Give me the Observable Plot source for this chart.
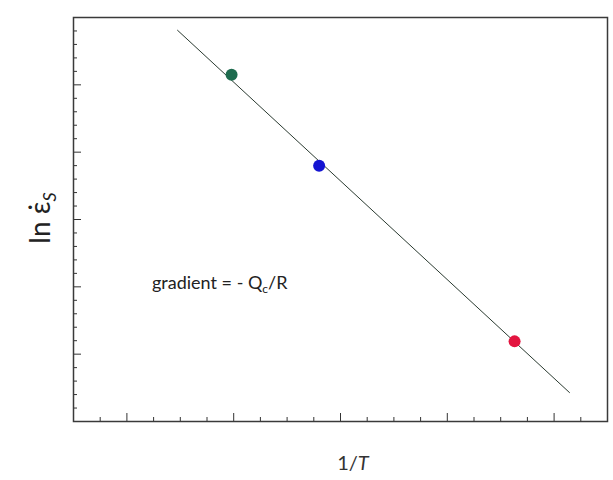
<!DOCTYPE html>
<html><head><meta charset="utf-8">
<script src="https://cdn.jsdelivr.net/npm/d3@7"></script>
<script src="https://cdn.jsdelivr.net/npm/@observablehq/plot@0.6"></script>
<style>body{margin:0;background:#fff}</style>
</head><body><div id="chart"></div>
<script>
// Data (arbitrary units)
const pointX = [1.48, 2.30, 4.13];
const pointY = [5.15, 3.80, 1.19];
const pointColor = ["#1d6b4e", "#1414d2", "#e3143f"];
const fitX = [0.974, 4.644];
const fitY = [5.81, 0.43];
const xMajor = [0.5, 1.5, 2.5, 3.5, 4.5];
const xMinor = [0.25, 0.75, 1, 1.25, 1.75, 2, 2.25, 2.75, 3, 3.25, 3.75, 4, 4.25, 4.75];
const yMajor = [1, 2, 3, 4, 5];
const yMinor = [0.2,0.4,0.6,0.8,1.2,1.4,1.6,1.8,2.2,2.4,2.6,2.8,3.2,3.4,3.6,3.8,4.2,4.4,4.6,4.8,5.2,5.4,5.6,5.8];

const points = pointX.map((x, i) => ({x, y: pointY[i], c: pointColor[i]}));
const fit = fitX.map((x, i) => ({x, y: fitY[i]}));

const chart = Plot.plot({
  width: 613, height: 480,
  marginLeft: 73, marginRight: 6, marginTop: 17, marginBottom: 59,
  x: {domain: [0, 5]},
  y: {domain: [0, 6]},
  marks: [
    Plot.axisX(xMajor, {anchor: "bottom", tickSize: -8, tickFormat: () => "", label: null, stroke: "#333"}),
    Plot.axisX(xMinor, {anchor: "bottom", tickSize: -4, tickFormat: () => "", label: null, stroke: "#333"}),
    Plot.axisY(yMajor, {anchor: "left", tickSize: -8, tickFormat: () => "", label: null, stroke: "#333"}),
    Plot.axisY(yMinor, {anchor: "left", tickSize: -4, tickFormat: () => "", label: null, stroke: "#333"}),
    Plot.frame({stroke: "#3a3a3a", strokeWidth: 1.5}),
    Plot.line(fit, {x: "x", y: "y", stroke: "#2a3a30", strokeWidth: 1}),
    Plot.dot(points, {x: "x", y: "y", r: 6, fill: "c", stroke: "none"})
  ]
});
document.getElementById("chart").append(chart);

const svg = d3.select(chart);
// y label
const yl = svg.append("text")
  .attr("transform", "translate(50,218) rotate(-90)")
  .attr("text-anchor", "middle")
  .style("font-family", "Lato, 'Open Sans', sans-serif")
  .style("font-size", "28px").attr("fill", "#222");
yl.append("tspan").text("ln ε\u0307");
yl.append("tspan").attr("dy", 6).style("font-size", "18px").style("font-style","italic").text("S");
// x label
const xl = svg.append("text")
  .attr("x", 353).attr("y", 470).attr("text-anchor", "middle")
  .style("font-family", "Lato, 'Open Sans', sans-serif")
  .style("font-size", "20px").attr("fill", "#333");
xl.append("tspan").text("1/");
xl.append("tspan").style("font-style", "italic").text("T");
// annotation
const an = svg.append("text")
  .attr("x", 152).attr("y", 289).attr("text-anchor", "start")
  .style("font-family", "Lato, 'Open Sans', sans-serif")
  .style("font-size", "18px").attr("fill", "#222");
an.append("tspan").text("gradient = - Q");
an.append("tspan").attr("dy", 4).style("font-size", "12px").text("c");
an.append("tspan").attr("dy", -4).text("/R");
</script>
</body></html>
